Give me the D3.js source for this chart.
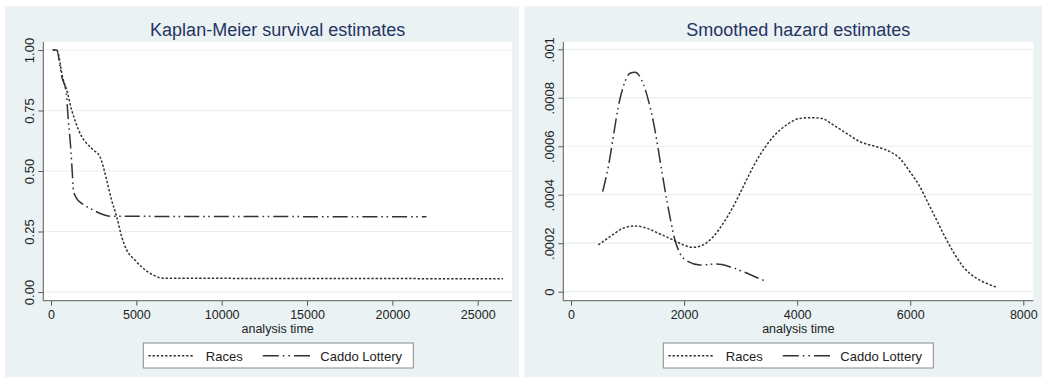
<!DOCTYPE html>
<html>
<head>
<meta charset="utf-8">
<script src="https://cdn.jsdelivr.net/npm/d3@7/dist/d3.min.js"></script>
<style>
  html, body { margin: 0; padding: 0; background: #ffffff; }
  svg { display: block; }
  text { font-family: "Liberation Sans", Arial, Helvetica, sans-serif; }
</style>
</head>
<body>
<svg id="chart" width="1042" height="382"></svg>
<script>
// ---------- DATA ----------
const seriesNames = ["Races", "Caddo Lottery"];

// Kaplan-Meier survival estimates
const kmRacesTime = [100, 330, 720, 920, 1210, 1400, 1800, 2090, 2480, 2870, 3060, 3260, 3550, 3850, 4140, 4430, 4920, 5400, 5990, 6580, 26480];
const kmRacesSurv = [1, 1, 0.876, 0.835, 0.752, 0.71, 0.642, 0.614, 0.587, 0.559, 0.518, 0.463, 0.38, 0.311, 0.229, 0.174, 0.132, 0.098, 0.07, 0.057, 0.055];
const kmCaddoTime = [100, 330, 626, 880, 1013, 1150, 1250, 1310, 1500, 1800, 2280, 2970, 3450, 22000];
const kmCaddoSurv = [1, 1, 0.89, 0.83, 0.711, 0.6, 0.49, 0.421, 0.387, 0.366, 0.346, 0.322, 0.313, 0.311];

// Smoothed hazard estimates
const hzRacesTime = [483, 690, 925, 1132, 1338, 1574, 1809, 1986, 2162, 2339, 2516, 2692, 2869, 3046, 3223, 3400, 3576, 3813, 4049, 4226, 4432, 4638, 4874, 5110, 5405, 5640, 5817, 5994, 6171, 6318, 6466, 6613, 6760, 6937, 7173, 7350, 7527];
const hzRacesVal = [0.000193, 0.000227, 0.000262, 0.000271, 0.000262, 0.000238, 0.000213, 0.000193, 0.000183, 0.000193, 0.000227, 0.000282, 0.000351, 0.000433, 0.000516, 0.000585, 0.000639, 0.000688, 0.000715, 0.000718, 0.000715, 0.000688, 0.000653, 0.000619, 0.000598, 0.000578, 0.00055, 0.000495, 0.000433, 0.000365, 0.000296, 0.000227, 0.000165, 0.000103, 0.0000553, 0.0000347, 0.0000182];
const hzCaddoTime = [560, 660, 748, 836, 925, 1043, 1132, 1250, 1367, 1485, 1574, 1662, 1750, 1839, 1927, 2074, 2280, 2576, 2811, 3046, 3253, 3460];
const hzCaddoVal = [0.000413, 0.000516, 0.000639, 0.000763, 0.000846, 0.000901, 0.000905, 0.000873, 0.000791, 0.000667, 0.000543, 0.00042, 0.000309, 0.000213, 0.000158, 0.000124, 0.00011, 0.000114, 0.000103, 0.0000825, 0.0000619, 0.0000413];

// Tick labels
const kmXTicks = [0, 5000, 10000, 15000, 20000, 25000];
const kmYTicks = [0, 0.25, 0.5, 0.75, 1];
const kmYLabels = ["0.00", "0.25", "0.50", "0.75", "1.00"];
const hzXTicks = [0, 2000, 4000, 6000, 8000];
const hzYTicks = [0, 0.0002, 0.0004, 0.0006, 0.0008, 0.001];
const hzYLabels = ["0", ".0002", ".0004", ".0006", ".0008", ".001"];

const titles = ["Kaplan-Meier survival estimates", "Smoothed hazard estimates"];
const xTitle = "analysis time";

// ---------- STYLE ----------
const BG = "#eaf2f3";
const GRID = "#e6eff1";
const AXIS = "#5a5a5a";
const TITLE = "#263463";
const LINE = "#333333";
const dashRaces = "2.4,1.8";
const dashCaddo = "15,4,1.6,3.5,1.6,4";

const svg = d3.select("#chart");

function panel(cfg) {
  const g = svg.append("g");
  // graph region background
  g.append("rect").attr("x", cfg.bg[0]).attr("y", cfg.bg[1])
    .attr("width", cfg.bg[2]).attr("height", cfg.bg[3]).attr("fill", BG);
  const [L, T, R, B] = cfg.plot;
  g.append("rect").attr("x", L).attr("y", T).attr("width", R - L).attr("height", B - T).attr("fill", "#ffffff");

  const x = d3.scaleLinear().domain(cfg.xDomain).range(cfg.xRange);
  const y = d3.scaleLinear().domain(cfg.yDomain).range(cfg.yRange);

  // gridlines
  g.append("g").selectAll("line").data(cfg.yTicks).join("line")
    .attr("x1", L + 1).attr("x2", R).attr("y1", d => y(d)).attr("y2", d => y(d))
    .attr("stroke", GRID).attr("stroke-width", 1.2);

  // y axis
  const yAxis = d3.axisLeft(y).tickValues(cfg.yTicks).tickSize(5).tickPadding(4)
    .tickFormat((d, i) => cfg.yLabels[i]);
  const ya = g.append("g").attr("transform", `translate(${L},0)`).call(yAxis);
  ya.select(".domain").attr("d", `M0,${T}V${B}`).attr("stroke", AXIS);
  ya.selectAll(".tick line").attr("stroke", AXIS);
  ya.selectAll(".tick text")
    .attr("font-size", 13).attr("fill", "#222")
    .attr("text-anchor", "middle")
    .attr("x", null).attr("dy", null)
    .attr("transform", "translate(-9.5,0) rotate(-90)");

  // x axis
  const xAxis = d3.axisBottom(x).tickValues(cfg.xTicks).tickSize(5).tickPadding(4)
    .tickFormat(d3.format("d"));
  const xa = g.append("g").attr("transform", `translate(0,${B})`).call(xAxis);
  xa.select(".domain").attr("d", `M${L},0H${R}`).attr("stroke", AXIS);
  xa.selectAll(".tick line").attr("stroke", AXIS);
  xa.selectAll(".tick text").attr("font-size", 12.5).attr("fill", "#222").attr("dy", null).attr("y", 18.3);

  // x title
  g.append("text").attr("x", (L + R) / 2).attr("y", 333).attr("text-anchor", "middle")
    .attr("font-size", 12.5).attr("fill", "#222").text(xTitle);

  // title
  g.append("text").attr("x", (L + R) / 2).attr("y", 36).attr("text-anchor", "middle")
    .attr("font-size", 18).attr("fill", TITLE).text(cfg.title);

  // lines
  const line = d3.line().x(d => x(d[0])).y(d => y(d[1])).curve(d3.curveMonotoneX);
  const racesPts = cfg.races[0].map((t, i) => [t, cfg.races[1][i]]);
  const caddoPts = cfg.caddo[0].map((t, i) => [t, cfg.caddo[1][i]]);
  g.append("path").attr("d", line(caddoPts)).attr("fill", "none")
    .attr("stroke", LINE).attr("stroke-width", 1.5).attr("stroke-dasharray", dashCaddo);
  g.append("path").attr("d", line(racesPts)).attr("fill", "none")
    .attr("stroke", LINE).attr("stroke-width", 1.5).attr("stroke-dasharray", dashRaces);

  // legend
  const lx = cfg.legendX, ly = 343;
  const lg = g.append("g");
  lg.append("rect").attr("x", lx).attr("y", ly).attr("width", 270).attr("height", 25)
    .attr("fill", "#ffffff").attr("stroke", "#8a8a8a").attr("stroke-width", 1);
  lg.append("line").attr("x1", lx + 5).attr("x2", lx + 50).attr("y1", ly + 12.7).attr("y2", ly + 12.7)
    .attr("stroke", LINE).attr("stroke-width", 1.5).attr("stroke-dasharray", dashRaces);
  lg.append("text").attr("x", lx + 62.5).attr("y", ly + 18).attr("font-size", 13).attr("fill", "#222").text(seriesNames[0]);
  lg.append("line").attr("x1", lx + 119.5).attr("x2", lx + 170).attr("y1", ly + 12.7).attr("y2", ly + 12.7)
    .attr("stroke", LINE).attr("stroke-width", 1.5).attr("stroke-dasharray", "16,4,1.6,4,1.6,4");
  lg.append("text").attr("x", lx + 177).attr("y", ly + 18).attr("font-size", 13).attr("fill", "#222").text(seriesNames[1]);
}

panel({
  bg: [5, 6.5, 514, 370.5],
  plot: [43.3, 42, 512, 300.7],
  xDomain: [0, 25000], xRange: [51, 477.7],
  yDomain: [0, 1], yRange: [292, 50],
  xTicks: kmXTicks, yTicks: kmYTicks, yLabels: kmYLabels,
  title: titles[0],
  races: [kmRacesTime, kmRacesSurv],
  caddo: [kmCaddoTime, kmCaddoSurv],
  legendX: 143.3
});

panel({
  bg: [524.5, 6.5, 520, 370.5],
  plot: [563.3, 42, 1033.3, 300.7],
  xDomain: [0, 8000], xRange: [571, 1023.3],
  yDomain: [0, 0.001], yRange: [291.7, 49.3],
  xTicks: hzXTicks, yTicks: hzYTicks, yLabels: hzYLabels,
  title: titles[1],
  races: [hzRacesTime, hzRacesVal],
  caddo: [hzCaddoTime, hzCaddoVal],
  legendX: 663.3
});
</script>
</body>
</html>
